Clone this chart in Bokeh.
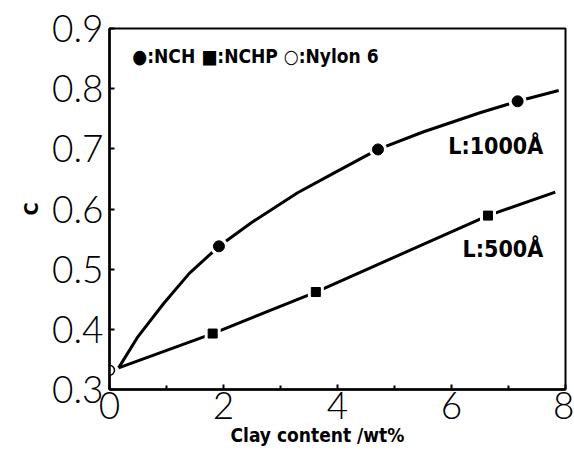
from bokeh.plotting import figure
from bokeh.models import Range1d, FixedTicker, Title
from bokeh.core.properties import value
from bokeh.embed import file_html
from bokeh.resources import INLINE

# NCH (L:1000 Å) measured points
nch_x = [1.92, 4.71, 7.16]
nch_y = [0.538, 0.699, 0.779]
# NCH curve
nch_curve_x = [0.16, 0.5, 0.95, 1.4, 1.92, 2.5, 3.3, 4.0, 4.71, 5.5, 6.5, 7.16, 7.88]
nch_curve_y = [0.336, 0.388, 0.443, 0.493, 0.538, 0.578, 0.627, 0.663, 0.699, 0.728, 0.760, 0.779, 0.797]

# NCHP (L:500 Å) measured points
nchp_x = [1.81, 3.62, 6.64]
nchp_y = [0.393, 0.462, 0.589]
nchp_line_x = [0.16, 1.81, 3.62, 6.64, 7.82]
nchp_line_y = [0.336, 0.393, 0.462, 0.589, 0.628]

# Nylon 6
nylon_x = [0.0]
nylon_y = [0.332]

x_ticks = [0, 2, 4, 6, 8]
y_ticks = [0.3, 0.4, 0.5, 0.6, 0.7, 0.8, 0.9]

BOLD = "DejaVu Sans Condensed"
THIN = "Lato Light"

p = figure(width=574, height=458, output_backend="svg", toolbar_location=None,
           x_range=Range1d(0, 8), y_range=Range1d(0.3, 0.9),
           min_border_left=109, min_border_right=9, min_border_top=28, min_border_bottom=69)
p.background_fill_color = "white"
p.border_fill_color = "white"
p.xgrid.visible = False
p.ygrid.visible = False
p.outline_line_color = "black"
p.outline_line_width = 2

# lines
p.line(nch_curve_x, nch_curve_y, line_color="black", line_width=3)
p.line(nchp_line_x, nchp_line_y, line_color="black", line_width=3)

# white halos then markers
p.scatter(nch_x, nch_y, marker="circle", size=18, fill_color="white", line_color=None)
p.scatter(nch_x, nch_y, marker="circle", size=11, fill_color="black", line_color="black")
p.scatter(nchp_x, nchp_y, marker="square", size=16, fill_color="white", line_color=None)
p.scatter(nchp_x, nchp_y, marker="square", size=9, fill_color="black", line_color="black")
p.scatter(nylon_x, nylon_y, marker="circle", size=10, fill_color="white", line_color="black", line_width=1.5)

# annotations
p.text(x=[0.40], y=[0.855], text=["●:NCH ■:NCHP ○:Nylon 6"], text_font=value(BOLD),
       text_font_style="bold", text_font_size="19px", text_baseline="middle", text_align="left")
p.text(x=[7.61], y=[0.705], text=["L:1000Å"], text_font=value(BOLD),
       text_font_style="bold", text_font_size="23px", text_baseline="middle", text_align="right")
p.text(x=[7.61], y=[0.534], text=["L:500Å"], text_font=value(BOLD),
       text_font_style="bold", text_font_size="23px", text_baseline="middle", text_align="right")

# axes
for ax in (p.xaxis[0], p.yaxis[0]):
    ax.axis_line_width = 2.5
    ax.axis_line_color = "black"
    ax.major_tick_in = 5
    ax.major_tick_out = 0
    ax.major_tick_line_width = 2
    ax.major_label_text_font = THIN
    ax.major_label_text_font_size = "37px"
    ax.major_label_text_color = "black"
    ax.major_label_standoff = 6

p.xaxis[0].ticker = FixedTicker(ticks=x_ticks, minor_ticks=[1, 3, 5, 7])
p.xaxis[0].minor_tick_in = 4
p.xaxis[0].minor_tick_out = 0
p.xaxis[0].minor_tick_line_width = 2
p.xaxis[0].major_label_standoff = 2
p.yaxis[0].ticker = FixedTicker(ticks=y_ticks)
p.yaxis[0].minor_tick_line_color = None
p.yaxis[0].major_label_overrides = {t: f"{t:.1f}" for t in y_ticks}

p.yaxis[0].axis_label = "C"
p.yaxis[0].axis_label_text_font = BOLD
p.yaxis[0].axis_label_text_font_style = "bold"
p.yaxis[0].axis_label_text_font_size = "20px"
p.yaxis[0].axis_label_text_color = "black"
p.yaxis[0].axis_label_standoff = 6

p.add_layout(Title(text="Clay content /wt%", align="left", offset=121,
                   text_font=BOLD, text_font_style="bold", text_font_size="19px",
                   text_color="black", standoff=0), "below")

open("out.html", "w").write(file_html(p, INLINE))
